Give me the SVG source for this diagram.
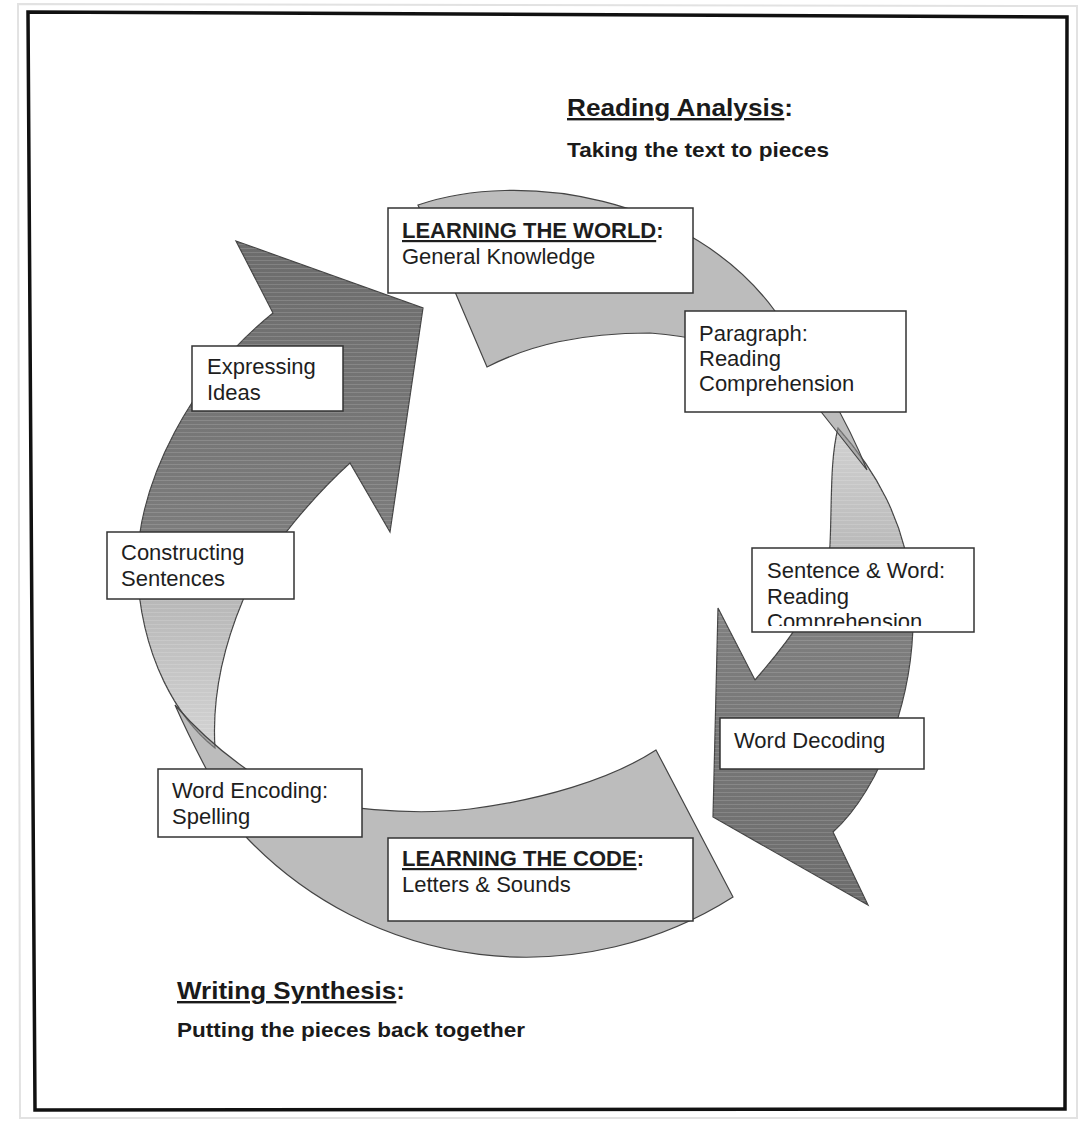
<svg xmlns="http://www.w3.org/2000/svg" width="1084" height="1121" viewBox="0 0 1084 1121">
  <style>
    .t { font-family: "Liberation Sans", Arial, sans-serif; font-size: 22px; fill: #1e1e1e; }
    .b { font-weight: bold; }
    .u { text-decoration: underline; }
    .box { fill: #ffffff; stroke: #333333; stroke-width: 1.5; }
    .arc { fill: #8f8f8f; fill-opacity: 0.6; stroke: #444444; stroke-width: 1.2; }
    .arrow { stroke: #444444; stroke-width: 1.2; }
    .stripe { fill: url(#stripes); stroke: none; }
    .h1 { font-family: "Liberation Sans", Arial, sans-serif; font-size: 24px; font-weight: bold; fill: #1a1a1a; }
    .h2 { font-family: "Liberation Sans", Arial, sans-serif; font-size: 21px; font-weight: bold; fill: #1a1a1a; }
  </style>
  <defs>
    <linearGradient id="gLeft" gradientUnits="userSpaceOnUse" x1="0" y1="748" x2="0" y2="241">
      <stop offset="0" stop-color="#d4d4d4"/>
      <stop offset="0.29" stop-color="#b8b8b8"/>
      <stop offset="0.43" stop-color="#7c7c7c"/>
      <stop offset="1" stop-color="#6c6c6c"/>
    </linearGradient>
    <linearGradient id="gRight" gradientUnits="userSpaceOnUse" x1="0" y1="428" x2="0" y2="905">
      <stop offset="0" stop-color="#d2d2d2"/>
      <stop offset="0.25" stop-color="#bababa"/>
      <stop offset="0.43" stop-color="#7e7e7e"/>
      <stop offset="1" stop-color="#6c6c6c"/>
    </linearGradient>
    <pattern id="stripes" patternUnits="userSpaceOnUse" width="8" height="4">
      <rect x="0" y="0" width="8" height="1" fill="#ffffff" fill-opacity="0.14"/>
    </pattern>
    <clipPath id="clipSentence">
      <rect x="752" y="548" width="222" height="78"/>
    </clipPath>
  </defs>

  <rect x="0" y="0" width="1084" height="1121" fill="#ffffff"/>

  <!-- frame -->
  <g id="frame">
    <path d="M18 4 L1077 6 L1077 1118 L20 1118 Z" fill="none" stroke="#e2e2e2" stroke-width="2"/>
    <path d="M28 12 L1067 17 L1065 1109 L35 1110 Z" fill="none" stroke="#111111" stroke-width="3.5"/>
  </g>

  <!-- cycle arrows (connectors) -->
  <g id="connectors">
    <g id="arrow-left">
      <path class="arrow" fill="url(#gLeft)" d="M215 748 C180 720 140 660 137 565 C139 480 190 380 273 313 L236 241 L423 308 L390 532 L350 463 C320 490 265 550 243 600 C222 650 212 700 215 748 Z"/>
      <path class="stripe" d="M215 748 C180 720 140 660 137 565 C139 480 190 380 273 313 L236 241 L423 308 L390 532 L350 463 C320 490 265 550 243 600 C222 650 212 700 215 748 Z"/>
    </g>
    <g id="arrow-right">
      <path class="arrow" fill="url(#gRight)" d="M838 428 C875 470 905 520 912 590 C920 690 880 790 833 832 L868 905 L713 817 L718 608 L755 680 C790 640 828 590 830 545 C832 500 830 460 838 428 Z"/>
      <path class="stripe" d="M838 428 C875 470 905 520 912 590 C920 690 880 790 833 832 L868 905 L713 817 L718 608 L755 680 C790 640 828 590 830 545 C832 500 830 460 838 428 Z"/>
    </g>
    <path id="arc-top" class="arc" d="M418 205 C520 170 690 195 775 311 C808 356 845 415 867 470 L822 413 C790 370 740 340 650 333 C580 333 530 345 487 367 Z"/>
    <path id="arc-bottom" class="arc" d="M733 897 A386 386 0 0 1 247 838 C228 812 195 750 175 705 C195 728 225 758 274 787 C330 812 420 815 470 809 C540 800 610 780 656 750 Z"/>
  </g>

  <!-- headings -->
  <g id="heading-reading">
    <text class="h1" x="567" y="116" textLength="226" lengthAdjust="spacingAndGlyphs"><tspan class="u">Reading Analysis</tspan>:</text>
    <text class="h2" x="567" y="157" textLength="262" lengthAdjust="spacingAndGlyphs">Taking the text to pieces</text>
  </g>
  <g id="heading-writing">
    <text class="h1" x="177" y="999" textLength="228" lengthAdjust="spacingAndGlyphs"><tspan class="u">Writing Synthesis</tspan>:</text>
    <text class="h2" x="177" y="1037" textLength="348" lengthAdjust="spacingAndGlyphs">Putting the pieces back together</text>
  </g>

  <!-- nodes -->
  <g id="node-learning-world">
    <rect class="box" x="388" y="208" width="305" height="85"/>
    <text class="t" x="402" y="238"><tspan class="b u">LEARNING THE WORLD</tspan><tspan class="b">:</tspan></text>
    <text class="t" x="402" y="264">General Knowledge</text>
  </g>
  <g id="node-paragraph">
    <rect class="box" x="685" y="311" width="221" height="101"/>
    <text class="t" x="699" y="341">Paragraph:</text>
    <text class="t" x="699" y="366">Reading</text>
    <text class="t" x="699" y="391">Comprehension</text>
  </g>
  <g id="node-sentence-word">
    <rect class="box" x="752" y="548" width="222" height="84"/>
    <g clip-path="url(#clipSentence)">
      <text class="t" x="767" y="578">Sentence &amp; Word:</text>
      <text class="t" x="767" y="604">Reading</text>
      <text class="t" x="767" y="629">Comprehension</text>
    </g>
  </g>
  <g id="node-word-decoding">
    <rect class="box" x="720" y="718" width="204" height="51"/>
    <text class="t" x="734" y="748">Word Decoding</text>
  </g>
  <g id="node-learning-code">
    <rect class="box" x="388" y="838" width="305" height="83"/>
    <text class="t" x="402" y="866"><tspan class="b u">LEARNING THE CODE</tspan><tspan class="b">:</tspan></text>
    <text class="t" x="402" y="892">Letters &amp; Sounds</text>
  </g>
  <g id="node-word-encoding">
    <rect class="box" x="158" y="769" width="204" height="68"/>
    <text class="t" x="172" y="798">Word Encoding:</text>
    <text class="t" x="172" y="824">Spelling</text>
  </g>
  <g id="node-constructing">
    <rect class="box" x="107" y="532" width="187" height="67"/>
    <text class="t" x="121" y="560">Constructing</text>
    <text class="t" x="121" y="586">Sentences</text>
  </g>
  <g id="node-expressing">
    <rect class="box" x="192" y="346" width="151" height="65"/>
    <text class="t" x="207" y="374">Expressing</text>
    <text class="t" x="207" y="400">Ideas</text>
  </g>
</svg>
